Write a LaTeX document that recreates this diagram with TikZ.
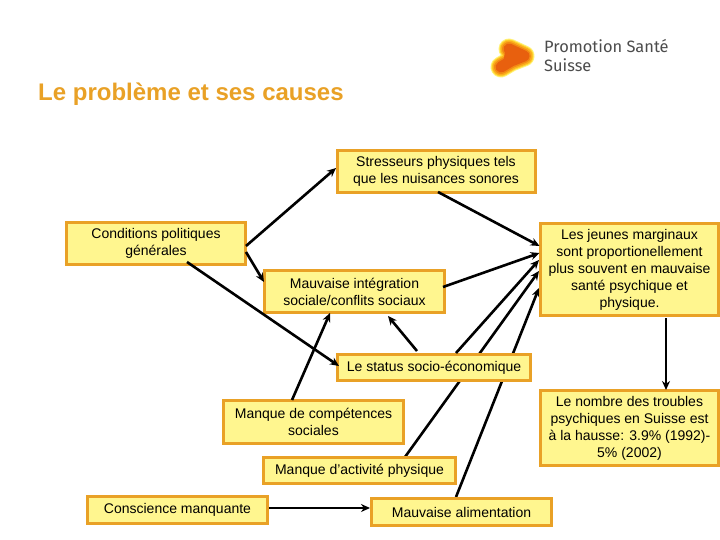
\documentclass[tikz,border=0pt]{standalone}
\usepackage{fontspec}
\setmainfont{Liberation Sans}
\newfontfamily\logofont{Fira Sans}
\usetikzlibrary{calc,arrows.meta,backgrounds}
\definecolor{boxfill}{HTML}{FFF68F}
\definecolor{boxline}{HTML}{E9A126}
\definecolor{titleorange}{HTML}{E9A126}
\definecolor{lg1}{HTML}{FFF27A}
\definecolor{lg2}{HTML}{FFD531}
\definecolor{lg3}{HTML}{FBAE1C}
\definecolor{lg4}{HTML}{F28A14}
\definecolor{lg5}{HTML}{E8600E}
\tikzset{
  causebox/.style={draw=boxline,fill=boxfill,line width=3pt,align=center,inner sep=0pt,
    font=\fontsize{14}{17}\selectfont,text=black},
  link/.style={draw=black,line width=2.6pt,-{Stealth[length=9pt,width=8pt]}},
  logoblob/.style={line cap=round,line join=round},
}
\begin{document}
\begin{tikzpicture}[x=1pt,y=-1pt]
\useasboundingbox (0,0) rectangle (720,540);
\begin{pgfonlayer}{background}
\fill[white] (0,0) rectangle (720,540);
\end{pgfonlayer}
% logo
\foreach \w/\c in {21/lg1,19/lg2,17/lg3,14/lg4,11/lg5}{
  \draw[logoblob,line width=\w pt,draw=\c] (509,49) -- (524,56) -- (511,61) -- (501,67);
  \fill[\c] (505,52) -- (517,54) -- (512,66) -- (503,64) -- cycle;
}
\node[anchor=base west,inner sep=0pt,text=black!70,font=\logofont\fontsize{16.4}{18}\selectfont] (logoa) at (544,53) {Promotion Santé};
\node[anchor=base west,inner sep=0pt,text=black!70,font=\logofont\fontsize{16.4}{18}\selectfont] (logob) at (544,72) {Suisse};
% title
\node[anchor=base west,inner sep=0pt,text=titleorange,font=\bfseries\fontsize{24}{27}\selectfont] (title) at (38,101) {Le problème et ses causes};
% boxes
\node[causebox,minimum width=198pt,minimum height=42pt] (stress) at (436,171.5) {Stresseurs physiques tels\\que les nuisances sonores};
\node[causebox,minimum width=179pt,minimum height=42pt] (cond) at (156,243.5) {Conditions politiques\\générales};
\node[causebox,minimum width=180pt,minimum height=42pt] (mauv) at (354.5,291.5) {Mauvaise intégration\\sociale/conflits sociaux};
\node[causebox,minimum width=193pt,minimum height=26pt] (status) at (434,367.5) {Le status socio-économique};
\node[causebox,minimum width=178pt,minimum height=92pt] (jeunes) at (629.5,269.5) {Les jeunes marginaux\\sont proportionellement\\plus souvent en mauvaise\\santé psychique et\\physique.};
\node[causebox,minimum width=178pt,minimum height=75pt] (nombre) at (629.5,428) {Le nombre des troubles\\psychiques en Suisse est\\à la hausse: 3.9\% (1992)-\\5\% (2002)};
\node[causebox,minimum width=180pt,minimum height=43pt] (comp) at (313.5,422) {Manque de compétences\\sociales};
\node[causebox,minimum width=192pt,minimum height=26pt] (act) at (359.5,470.5) {Manque d'activité physique};
\node[causebox,minimum width=180pt,minimum height=27pt] (cons) at (177.5,510) {Conscience manquante};
\node[causebox,minimum width=180pt,minimum height=27pt] (alim) at (461.5,512) {Mauvaise alimentation};
% connectors
\begin{pgfonlayer}{background}
\draw[link] ($(act.center)+(45.5,-13.5)$) -- ($(jeunes.center)+(-90.5,1.5)$);
\draw[link] ($(alim.center)+(-5.5,-15)$) -- ($(jeunes.center)+(-90.5,18.5)$);
\end{pgfonlayer}
\draw[link] ($(cond.center)+(90,2.5)$) -- ($(stress.center)+(-100,-3.5)$);
\draw[link] ($(cond.center)+(90,8.5)$) -- ($(mauv.center)+(-90.5,-9.5)$);
\draw[link] ($(cond.center)+(31,18.5)$) -- ($(status.center)+(-95,-1.5)$);
\draw[link] ($(stress.center)+(2,20.5)$) -- ($(jeunes.center)+(-90,-23.5)$);
\draw[link] ($(mauv.center)+(88.5,-4.5)$) -- ($(jeunes.center)+(-90,-16.5)$);
\draw[link] ($(status.center)+(-17,-16.5)$) -- ($(mauv.center)+(33.5,24.5)$);
\draw[link] ($(status.center)+(22,-14.5)$) -- ($(jeunes.center)+(-90.5,-9.5)$);
\draw[link] ($(comp.center)+(-21.5,-22)$) -- ($(mauv.center)+(-24.5,21.5)$);
\draw[link] ($(cons.center)+(91.5,-2)$) -- ($(alim.center)+(-91.5,-4)$);
\draw[link] ($(jeunes.center)+(36.5,48.5)$) -- ($(nombre.center)+(36.5,-38)$);
\end{tikzpicture}
\end{document}
